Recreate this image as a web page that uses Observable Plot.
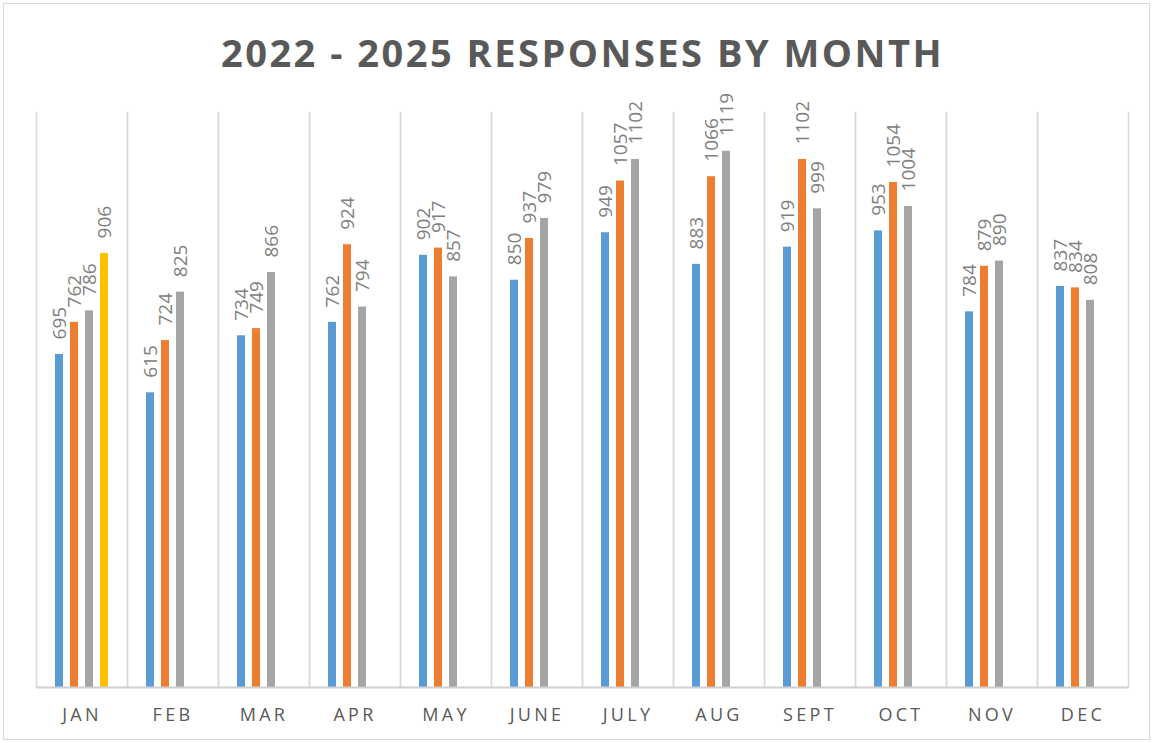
<!DOCTYPE html>
<html>
<head>
<meta charset="utf-8">
<script src="https://cdn.jsdelivr.net/npm/d3@7"></script>
<script src="https://cdn.jsdelivr.net/npm/@observablehq/plot@0.6"></script>
<style>
  html, body { margin: 0; padding: 0; background: #fff; }
  #wrap { position: relative; width: 1153px; height: 743px; overflow: hidden; }
  #border { position: absolute; left: 3px; top: 3px; right: 3px; bottom: 3px; border: 1.5px solid #d9d9d9; pointer-events: none; }
  #title { position: absolute; left: 6px; width: 1153px; top: 26px; text-align: center;
           font-family: "Open Sans", sans-serif; font-weight: 700; font-size: 38px; color: #595959;
           letter-spacing: 2.5px; line-height: 52px; }
  #chart { position: absolute; left: 0; top: 0; }
</style>
</head>
<body>
<div id="wrap">
  <div id="chart"></div>
  <div id="title">2022 - 2025 RESPONSES BY MONTH</div>
  <div id="border"></div>
</div>
<script>
const months = ["JAN","FEB","MAR","APR","MAY","JUNE","JULY","AUG","SEPT","OCT","NOV","DEC"];
const years = ["2022","2023","2024","2025"];
const colors = ["#5b9bd5","#ed7d31","#a5a5a5","#ffc000"];
const v2022 = [695, 615, 734, 762, 902, 850, 949, 883, 919, 953, 784, 837];
const v2023 = [762, 724, 749, 924, 917, 937, 1057, 1066, 1102, 1054, 879, 834];
const v2024 = [786, 825, 866, 794, 857, 979, 1102, 1119, 999, 1004, 890, 808];
const v2025 = [906];

const series = [v2022, v2023, v2024, v2025];
const data = [];
series.forEach((vals, si) => {
  vals.forEach((v, mi) => data.push({month: months[mi], year: years[si], value: v}));
});

const plot = Plot.plot({
  width: 1153,
  height: 743,
  marginLeft: 35,
  marginRight: 25,
  marginTop: 112,
  marginBottom: 56,
  style: {background: "transparent", overflow: "visible"},
  fx: {domain: months, padding: 0, label: null, tickSize: 0, tickPadding: 22},
  x: {domain: years, paddingInner: 0.48, paddingOuter: 1.18, axis: null},
  y: {domain: [0, 1200], axis: null},
  color: {domain: years, range: colors},
  marks: [
    Plot.frame({anchor: "left", stroke: "#d9d9d9", strokeWidth: 1.5, strokeOpacity: 1}),
    Plot.frame({anchor: "right", stroke: "#d9d9d9", strokeWidth: 1.5, strokeOpacity: 1}),
    Plot.barY(data, {fx: "month", x: "year", y: "value", fill: "year"}),
    Plot.ruleY([0], {stroke: "#d0d0d0", strokeWidth: 2}),
    Plot.text(data, {fx: "month", x: "year", y: "value", text: d => String(d.value),
      rotate: -90, textAnchor: "start", dy: -15, fill: "#808080",
      fontFamily: "Open Sans", fontSize: 19}),
    Plot.axisFx({anchor: "bottom", tickSize: 0, tickPadding: 21, label: null,
      fontFamily: "Open Sans", fontSize: 18, fill: "#595959"})
  ]
});
d3.select(plot).selectAll('[aria-label="fx-axis tick label"] text').style("letter-spacing", "3.3px");
document.getElementById("chart").appendChild(plot);
</script>
</body>
</html>
